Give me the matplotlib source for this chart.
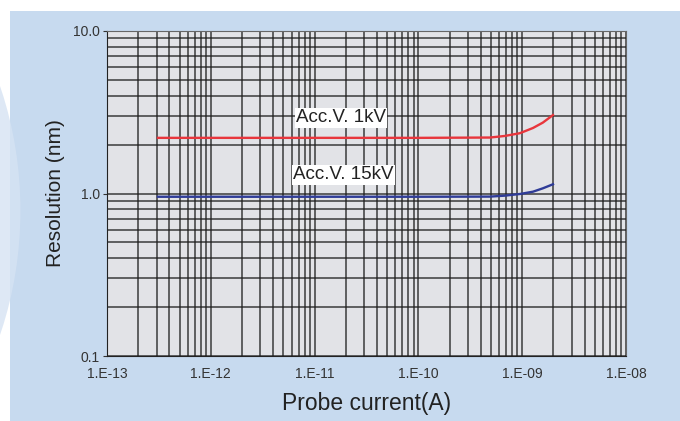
import matplotlib
matplotlib.use('Agg')
import matplotlib.pyplot as plt
from matplotlib.patches import Rectangle, Ellipse
from matplotlib.ticker import LogLocator, FixedLocator, NullFormatter
import numpy as np

plt.rcParams['font.family'] = ['Liberation Sans', 'DejaVu Sans']

# probe current (A) and resolution (nm)
current_1kv = [3.1e-13, 1e-12, 1e-11, 1e-10, 4.9e-10, 6.8e-10, 9.5e-10, 1.27e-9, 1.58e-9, 1.98e-9]
res_1kv = [2.2, 2.2, 2.2, 2.2, 2.21, 2.26, 2.35, 2.53, 2.73, 3.04]
current_15kv = [3.1e-13, 1e-12, 1e-11, 1e-10, 4.9e-10, 6.8e-10, 9.5e-10, 1.27e-9, 1.58e-9, 1.98e-9]
res_15kv = [0.955, 0.955, 0.955, 0.955, 0.957, 0.97, 0.993, 1.026, 1.076, 1.14]

x_ticks = [1e-13, 1e-12, 1e-11, 1e-10, 1e-9, 1e-8]
x_labels = ['1.E-13', '1.E-12', '1.E-11', '1.E-10', '1.E-09', '1.E-08']
y_ticks = [0.1, 1.0, 10.0]
y_labels = ['0.1', '1.0', '10.0']

fig = plt.figure(figsize=(6.8, 4.21), dpi=100)
fig.patch.set_facecolor('white')
# blue panel behind the chart
fig.patches.append(Rectangle((10 / 680, 0), 1, 410 / 421, transform=fig.transFigure,
                             facecolor='#c7daef', edgecolor='none', zorder=-2))
# faint lighter curve at the left edge
fig.patches.append(Ellipse((-0.34, 0.5), 0.74, 1.5, transform=fig.transFigure,
                           facecolor='#d6e3f3', edgecolor='none', alpha=0.8, zorder=-1))

ax = fig.add_axes([107 / 680, 65 / 421, 519 / 680, 325 / 421])
ax.set_facecolor('#e2e3e7')
ax.set_xscale('log')
ax.set_yscale('log')
ax.set_xlim(1e-13, 1e-8)
ax.set_ylim(0.1, 10)

ax.plot(current_1kv, res_1kv, color='#e8363c', lw=1.7, zorder=3)
ax.plot(current_15kv, res_15kv, color='#2f3c98', lw=1.7, zorder=3)

ax.xaxis.set_major_locator(FixedLocator(x_ticks))
ax.set_xticklabels(x_labels)
ax.yaxis.set_major_locator(FixedLocator(y_ticks))
ax.set_yticklabels(y_labels)
ax.xaxis.set_minor_locator(LogLocator(base=10, subs=np.arange(2, 10)))
ax.yaxis.set_minor_locator(LogLocator(base=10, subs=np.arange(2, 10)))
ax.xaxis.set_minor_formatter(NullFormatter())
ax.yaxis.set_minor_formatter(NullFormatter())

ax.grid(True, which='both', color='#1e1e1e', lw=1.1, alpha=0.85)
ax.tick_params(axis='x', which='both', length=0, labelsize=10, colors='#333333', pad=8)
ax.tick_params(axis='y', which='major', length=3, labelsize=10, colors='#333333', pad=2)
ax.tick_params(axis='y', which='minor', length=0)
for s in ['left', 'bottom']:
    ax.spines[s].set_color('#222222')
for s in ['top', 'right']:
    ax.spines[s].set_color('#666666')

ax.text(1.8e-11, 2.92, 'Acc.V. 1kV', fontsize=13.5, color='#222222', ha='center', va='center',
        bbox=dict(facecolor='white', edgecolor='none', pad=1.0), zorder=4)
ax.text(1.9e-11, 1.30, 'Acc.V. 15kV', fontsize=13.5, color='#222222', ha='center', va='center',
        bbox=dict(facecolor='white', edgecolor='none', pad=1.0), zorder=4)

ax.set_xlabel('Probe current(A)', fontsize=16.5, color='#222222', labelpad=8)
ax.set_ylabel('Resolution (nm)', fontsize=15, color='#222222', labelpad=6)

fig.savefig('out.png', dpi=100, facecolor=fig.get_facecolor())
